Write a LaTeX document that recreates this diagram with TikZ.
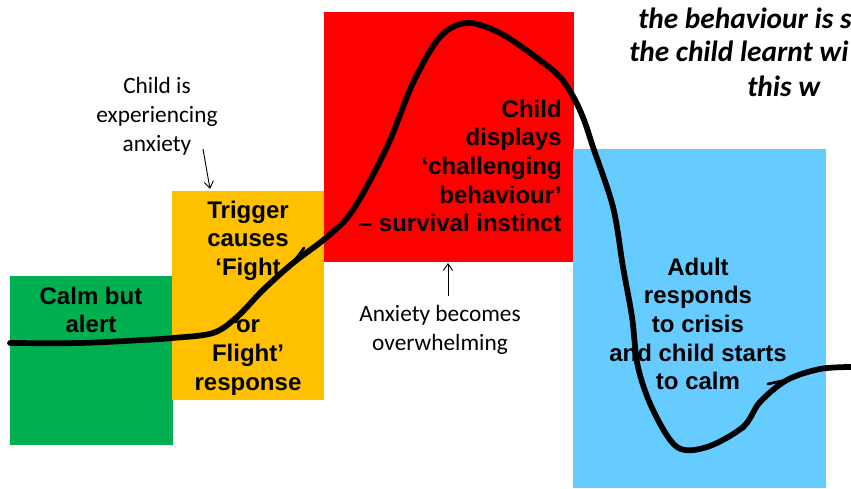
\documentclass[tikz,border=0pt]{standalone}
\usepackage{fontspec}
\setmainfont{Liberation Sans}
\newfontfamily\calibri{Carlito}
\usetikzlibrary{arrows.meta}

\definecolor{calmgreen}{HTML}{00B050}
\definecolor{fightorange}{HTML}{FFC000}
\definecolor{crisisred}{HTML}{FF0000}
\definecolor{adultblue}{HTML}{66CCFF}

\tikzset{
  stage/.style={font=\bfseries\fontsize{18}{21.5}\selectfont,align=center,inner sep=0pt},
  note/.style={font=\calibri\fontsize{17.5}{21.75}\selectfont,align=center,inner sep=0pt},
  quote/.style={font=\calibri\bfseries\itshape\fontsize{22}{25.5}\selectfont,anchor=west,inner sep=0pt},
  pointer/.style={-{Straight Barb[length=5pt,width=7pt]},line width=0.7pt},
  wave/.style={line width=4.3pt,line cap=round,line join=round}
}

\begin{document}
\begin{tikzpicture}[x=0.75pt,y=-0.75pt]
\useasboundingbox (0,0) rectangle (851,489);
\clip (0,0) rectangle (851,489);
\fill[white] (0,0) rectangle (851,489);
% coloured stages
\fill[calmgreen] (10,276) rectangle (173,445);
\fill[fightorange] (172,191) rectangle (324,400);
\fill[crisisred] (324,12) rectangle (574,262);
\fill[adultblue] (573,149) rectangle (826,488);
\node[stage] (calm) at (91,310) {Calm but\\alert};
\node[stage] (trigger) at (248,298) {Trigger\\causes\\‘Fight\\[21.5pt]or\\Flight’\\response};
\node[stage,align=right,anchor=east] (display) at (562,166) {Child\\displays\\‘challenging\\behaviour’\\– survival instinct};
\node[stage] (adult) at (698,324) {Adult\\responds\\to crisis\\and child starts\\to calm};
% notes and their arrows
\node[note] (anxious) at (157,116) {Child is\\experiencing\\anxiety};
\node[note] (overwhelm) at (440,330) {Anxiety becomes\\overwhelming};
\coordinate (tiptrigger) at (210,189);
\coordinate (tipred) at (448,263);
\draw[pointer] (203,149) -- (tiptrigger);
\draw[pointer] (448,296) -- (tipred);
\node[quote] (quote1) at (638,18) {the behaviour is s};
\node[quote] (quote2) at (629,51) {the child learnt wi};
\node[quote] (quote3) at (747,86) {this w};
% the anxiety curve
\draw[wave] plot[smooth,tension=0.55] coordinates {
  (10,343) (80,343) (143,340) (173,338) (213,333) (237,317) (263,290)
  (293,263) (327,237) (353,210) (387,147) (413,83) (440,37) (467,23)
  (500,33) (537,58) (560,77) (574,98) (584,120) (593,147) (613,207)
  (623,267) (632,317) (638,367) (653,410) (677,447) (707,447) (743,427)
  (760,402) (787,380) (820,369) (851,367)};
% pen barbs along the curve
\draw[line width=2pt,line cap=round] (289,268) -- (304,248);
\draw[line width=2pt,line cap=round] (236,322) -- (244,308);
\draw[line width=2pt,line cap=round] (745,428) -- (730,436);
\draw[line width=2pt,line cap=round] (786,380) -- (768,384);
\end{tikzpicture}
\end{document}
